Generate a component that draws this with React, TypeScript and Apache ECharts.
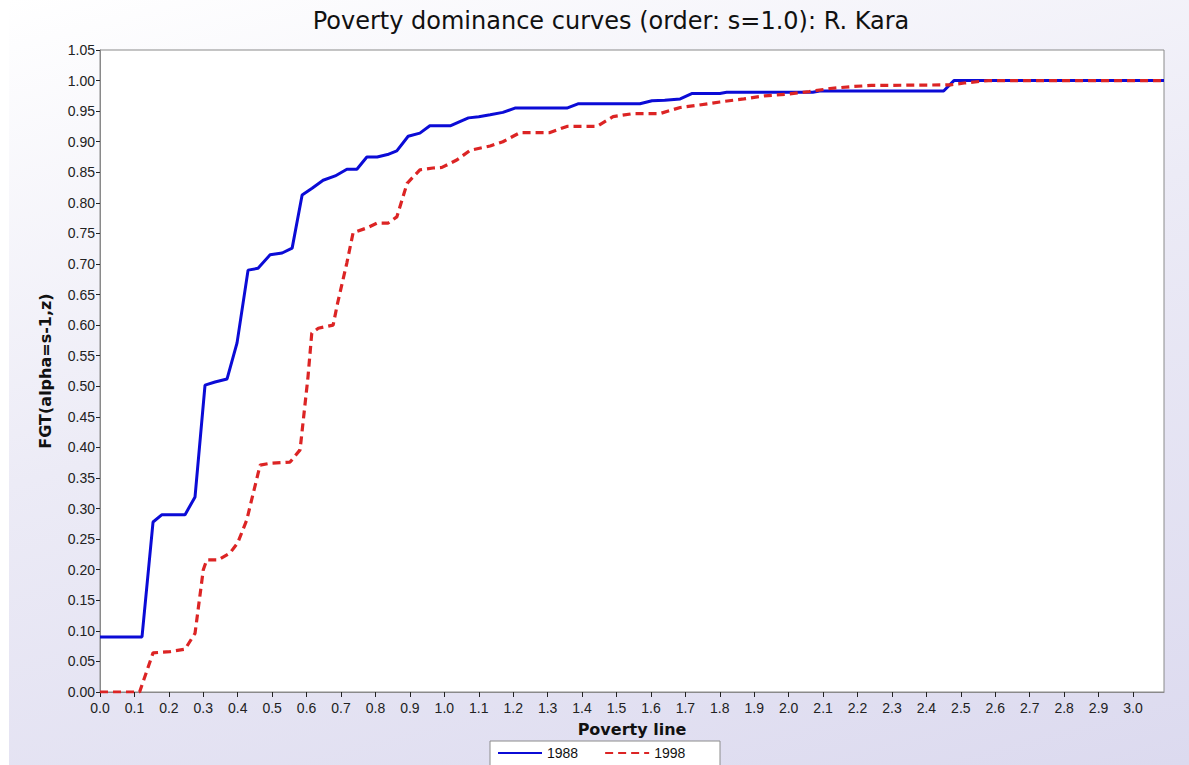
import React, { useEffect, useRef } from "react";
import * as echarts from "echarts";

const TITLE = "Poverty dominance curves (order: s=1.0): R. Kara";
const X_NAME = "Poverty line";
const Y_NAME = "FGT(alpha=s-1,z)";
const SERIES_NAMES = ["1988", "1998"];

const x1988 = [0, 0.122, 0.154, 0.18, 0.247, 0.276, 0.305, 0.334, 0.369, 0.398, 0.43, 0.459, 0.494, 0.529, 0.558, 0.587, 0.616, 0.648, 0.683, 0.717, 0.746, 0.775, 0.805, 0.835, 0.862, 0.895, 0.929, 0.958, 1.017, 1.045, 1.07, 1.10, 1.133, 1.17, 1.205, 1.356, 1.388, 1.568, 1.603, 1.64, 1.685, 1.72, 1.80, 1.82, 2.07, 2.09, 2.45, 2.48, 3.09];
const y1988 = [0.09, 0.09, 0.278, 0.29, 0.29, 0.319, 0.502, 0.507, 0.512, 0.571, 0.69, 0.693, 0.715, 0.718, 0.726, 0.813, 0.824, 0.837, 0.844, 0.855, 0.855, 0.875, 0.875, 0.879, 0.885, 0.909, 0.914, 0.926, 0.926, 0.933, 0.939, 0.941, 0.944, 0.948, 0.955, 0.955, 0.962, 0.962, 0.967, 0.968, 0.970, 0.979, 0.979, 0.981, 0.981, 0.983, 0.983, 1.0, 1.0];

const x1998 = [0, 0.115, 0.154, 0.203, 0.247, 0.276, 0.30, 0.31, 0.343, 0.377, 0.40, 0.426, 0.445, 0.465, 0.494, 0.552, 0.581, 0.604, 0.615, 0.634, 0.677, 0.69, 0.717, 0.735, 0.775, 0.805, 0.837, 0.862, 0.892, 0.929, 0.967, 0.993, 1.036, 1.075, 1.133, 1.17, 1.22, 1.307, 1.356, 1.443, 1.49, 1.548, 1.626, 1.685, 1.74, 1.80, 1.87, 1.93, 2.00, 2.06, 2.12, 2.18, 2.24, 2.47, 2.51, 2.58, 3.09];
const y1998 = [0, 0, 0.064, 0.066, 0.07, 0.096, 0.20, 0.216, 0.216, 0.227, 0.244, 0.281, 0.325, 0.371, 0.374, 0.376, 0.396, 0.515, 0.587, 0.595, 0.60, 0.636, 0.702, 0.751, 0.759, 0.767, 0.767, 0.777, 0.832, 0.854, 0.857, 0.858, 0.87, 0.886, 0.893, 0.90, 0.915, 0.915, 0.925, 0.925, 0.941, 0.946, 0.946, 0.956, 0.96, 0.965, 0.97, 0.975, 0.978, 0.982, 0.987, 0.99, 0.992, 0.993, 0.996, 1.0, 1.0];

const X_MIN = 0;
const X_MAX = 3.09;
const X_STEP = 0.1;
const Y_MIN = 0;
const Y_MAX = 1.05;
const Y_STEP = 0.05;

const zip = (xs: number[], ys: number[]) => xs.map((x, i) => [x, ys[i]]);

export default function App() {
  const ref = useRef<HTMLDivElement>(null);
  useEffect(() => {
    if (!ref.current) return;
    const chart = echarts.init(ref.current, undefined, { renderer: "svg" });
    const labelFont = { fontFamily: "Liberation Sans, Arial, sans-serif", fontSize: 14, color: "#222" };
    const boldFont = { fontFamily: "DejaVu Sans, Verdana, sans-serif", fontSize: 16, fontWeight: "bold", color: "#111" };
    chart.setOption({
      animation: false,
      backgroundColor: "transparent",
      title: {
        text: TITLE,
        left: 606,
        top: 4,
        textAlign: "center",
        textStyle: { fontFamily: "DejaVu Sans, Verdana, sans-serif", fontSize: 24, fontWeight: "normal", color: "#111" },
      },
      graphic: [
        {
          type: "rect",
          shape: { x: 490, y: 741, width: 230, height: 40 },
          style: { fill: "#ffffff", stroke: "#8c8c8c", lineWidth: 1 },
          z: 1,
        },
      ],
      legend: {
        left: 492,
        top: 744,
        itemWidth: 44,
        itemHeight: 14,
        itemGap: 26,
        padding: [2, 5, 2, 5],
        itemStyle: { opacity: 0 },
        textStyle: { ...labelFont, color: "#111" },
        data: SERIES_NAMES,
        z: 5,
      },
      grid: {
        left: 100,
        right: 25,
        top: 50,
        bottom: 73,
        show: true,
        backgroundColor: "#ffffff",
        borderColor: "#8a8a8a",
        borderWidth: 1,
      },
      xAxis: {
        type: "value",
        min: X_MIN,
        max: X_MAX,
        interval: X_STEP,
        name: X_NAME,
        nameLocation: "middle",
        nameGap: 29,
        nameTextStyle: boldFont,
        axisLine: { show: true, onZero: false, lineStyle: { color: "#8a8a8a", width: 1 } },
        axisTick: { show: true, length: 5, lineStyle: { color: "#222" } },
        axisLabel: {
          ...labelFont,
          margin: 9,
          showMaxLabel: false,
          formatter: (v: number) => v.toFixed(1),
        },
        splitLine: { show: false },
      },
      yAxis: {
        type: "value",
        min: Y_MIN,
        max: Y_MAX,
        interval: Y_STEP,
        name: Y_NAME,
        nameLocation: "middle",
        nameGap: 47,
        nameTextStyle: boldFont,
        axisLine: { show: true, lineStyle: { color: "#8a8a8a", width: 1 } },
        axisTick: { show: true, length: 4, lineStyle: { color: "#222" } },
        axisLabel: { ...labelFont, margin: 5, formatter: (v: number) => v.toFixed(2) },
        splitLine: { show: false },
      },
      series: [
        {
          name: SERIES_NAMES[0],
          type: "line",
          data: zip(x1988, y1988),
          symbol: "none",
          lineStyle: { color: "#0b0bd6", width: 3 },
          itemStyle: { color: "#0b0bd6" },
          z: 3,
        },
        {
          name: SERIES_NAMES[1],
          type: "line",
          data: zip(x1998, y1998),
          symbol: "none",
          lineStyle: { color: "#dc2424", width: 3.2, type: [8, 5] },
          itemStyle: { color: "#dc2424" },
          z: 4,
        },
      ],
    });
    return () => chart.dispose();
  }, []);
  return (
    <div
      style={{
        position: "fixed",
        left: 0,
        top: 0,
        width: 1189,
        height: 765,
        background:
          "linear-gradient(to right, #ffffff 9px, transparent 9px), linear-gradient(165deg, #ffffff 0%, #ecebf6 45%, #dcdaef 100%)",
      }}
    >
      <div ref={ref} style={{ width: 1189, height: 765 }} />
    </div>
  );
}
